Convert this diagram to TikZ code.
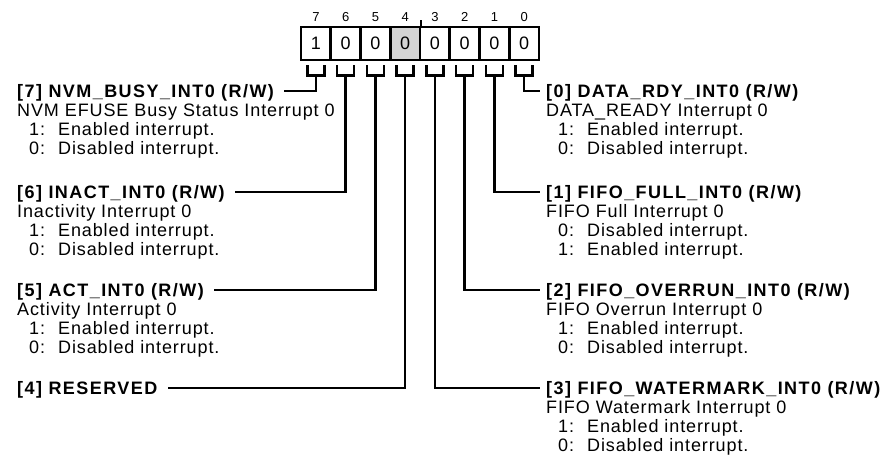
\documentclass[tikz,border=0pt]{standalone}
\usepackage{fontspec}
\setmainfont[LetterSpace=5]{Liberation Sans}
\newfontfamily\lblfont[LetterSpace=8]{Liberation Sans}
\definecolor{regGray}{RGB}{212,212,212}
\newcommand{\bitind}{\hspace*{12pt}}
\newcommand{\bitgap}{\hspace*{13pt}}
\tikzset{
  cellbox/.style={draw, line width=2.6pt, minimum width=29.75pt, minimum height=33pt,
    inner sep=0pt, font=\fontsize{18}{19}\selectfont},
  bitno/.style={inner sep=0pt, font=\fontsize{13}{14}\selectfont},
  wire/.style={line width=2.6pt},
  lbl/.style={inner sep=0pt, text height=12.5pt, text depth=0pt,
    font=\lblfont\bfseries\fontsize{18}{19}\selectfont},
  desc/.style={inner sep=0pt, anchor=base west, align=left,
    font=\fontsize{18}{19}\selectfont}
}
\begin{document}
\begin{tikzpicture}[x=1pt,y=-1pt]
\useasboundingbox (0,0) rectangle (891,462);
% register cells
\foreach \b/\v/\c [count=\i from 0] in {7/1/white,6/0/white,5/0/white,4/0/regGray,3/0/white,2/0/white,1/0/white,0/0/white}{
  \node[cellbox, fill=\c] (cell\b) at (315.9+29.75*\i,43.5) {\v};
  \node[bitno] (no\b) at ([yshift=26.5pt]cell\b.center) {\b};
  \draw[wire] ([xshift=-8.5pt,yshift=-4pt]cell\b.south) -- ++(0,10) -- ++(17,0) -- ++(0,-10);
  \coordinate (f\b) at ([yshift=-14pt]cell\b.south);
}
\draw[line width=2pt] (cell4.north east) -- ++(0,-5.5);

% left side (desc nodes sit on their last line)
\node[lbl, anchor=west] (lab7) at (17,91) {[7] NVM\_BUSY\_INT0 (R/W)};
\node[desc] (d7) at ([yshift=-57pt]lab7.base west) {NVM EFUSE Busy Status Interrupt 0\\
  \bitind 1:\bitgap Enabled interrupt.\\ \bitind 0:\bitgap Disabled interrupt.};
\node[lbl, anchor=west] (lab6) at (17,192) {[6] INACT\_INT0 (R/W)};
\node[desc] (d6) at ([yshift=-57pt]lab6.base west) {Inactivity Interrupt 0\\
  \bitind 1:\bitgap Enabled interrupt.\\ \bitind 0:\bitgap Disabled interrupt.};
\node[lbl, anchor=west] (lab5) at (17,290) {[5] ACT\_INT0 (R/W)};
\node[desc] (d5) at ([yshift=-57pt]lab5.base west) {Activity Interrupt 0\\
  \bitind 1:\bitgap Enabled interrupt.\\ \bitind 0:\bitgap Disabled interrupt.};
\node[lbl, anchor=west] (lab4) at (17,388) {[4] RESERVED};

% right side
\node[lbl, anchor=west] (lab0) at (546,91) {[0] DATA\_RDY\_INT0 (R/W)};
\node[desc] (d0) at ([yshift=-57pt]lab0.base west) {DATA\_READY Interrupt 0\\
  \bitind 1:\bitgap Enabled interrupt.\\ \bitind 0:\bitgap Disabled interrupt.};
\node[lbl, anchor=west] (lab1) at (546,192) {[1] FIFO\_FULL\_INT0 (R/W)};
\node[desc] (d1) at ([yshift=-57pt]lab1.base west) {FIFO Full Interrupt 0\\
  \bitind 0:\bitgap Disabled interrupt.\\ \bitind 1:\bitgap Enabled interrupt.};
\node[lbl, anchor=west] (lab2) at (546,290) {[2] FIFO\_OVERRUN\_INT0 (R/W)};
\node[desc] (d2) at ([yshift=-57pt]lab2.base west) {FIFO Overrun Interrupt 0\\
  \bitind 1:\bitgap Enabled interrupt.\\ \bitind 0:\bitgap Disabled interrupt.};
\node[lbl, anchor=west] (lab3) at (546,388) {[3] FIFO\_WATERMARK\_INT0 (R/W)};
\node[desc] (d3) at ([yshift=-57pt]lab3.base west) {FIFO Watermark Interrupt 0\\
  \bitind 1:\bitgap Enabled interrupt.\\ \bitind 0:\bitgap Disabled interrupt.};

% stems
\foreach \b in {7,6,5,4}
  \draw[wire] (f\b) |- ([xshift=10pt]lab\b.east);
\foreach \b in {0,1,2,3}
  \draw[wire] (f\b) |- ([xshift=-6pt]lab\b.west);
\end{tikzpicture}
\end{document}
